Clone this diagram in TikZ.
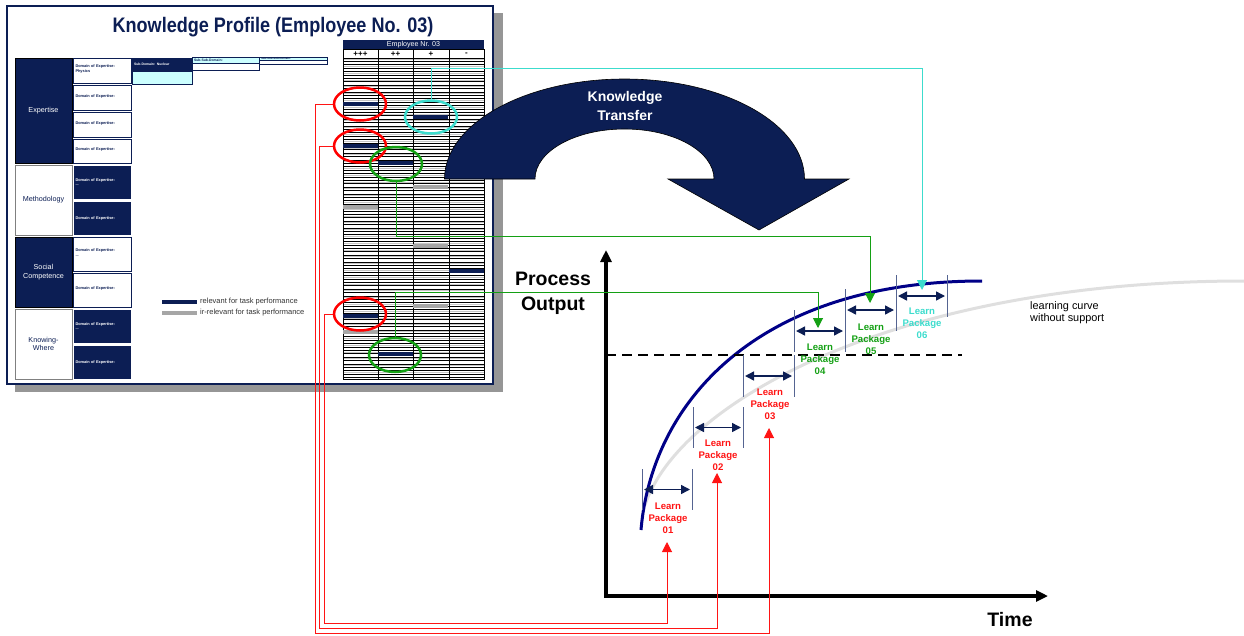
\documentclass[tikz,border=0pt]{standalone}
\usepackage{fontspec}
\setmainfont{Liberation Sans}
\newfontfamily\narrowfont{Liberation Sans}[FakeStretch=0.86]
\usetikzlibrary{arrows.meta,shapes.geometric,positioning}

\definecolor{profnavy}{RGB}{12,30,84}
\definecolor{curveblue}{RGB}{0,0,135}
\definecolor{tickblue}{RGB}{85,100,145}
\definecolor{pkgred}{RGB}{255,20,20}
\definecolor{pkggreen}{RGB}{20,160,20}
\definecolor{pkgcyan}{RGB}{60,220,205}
\definecolor{paleblue}{RGB}{204,255,255}
\definecolor{shadowgray}{RGB}{150,150,150}

\tikzset{
  catdark/.style={draw=black, fill=profnavy, text=white, line width=0.8pt,
    minimum width=57pt, inner sep=0pt, align=center,
    font=\fontsize{7.2}{9.5}\selectfont},
  catlight/.style={catdark, draw=gray, fill=white, text=profnavy},
  domlight/.style={draw=profnavy, fill=white, line width=1pt, minimum width=58pt,
    text width=53pt, inner xsep=2.5pt, inner ysep=0pt, align=left, text=profnavy,
    font=\bfseries\fontsize{3.9}{4.8}\selectfont},
  domdark/.style={domlight, draw=white, fill=profnavy, text=white},
  subbox/.style={draw=profnavy, line width=0.8pt, inner xsep=2pt, inner ysep=0pt,
    align=left, font=\bfseries\fontsize{3.4}{4}\selectfont},
  rowline/.style={black, line width=0.8pt},
  hilite/.style={ellipse, draw, line width=2.5pt, inner sep=0pt,
    minimum width=52pt, minimum height=33pt},
  link/.style={line width=1pt, -{Triangle[length=10pt,width=10pt]}},
  tickline/.style={tickblue, line width=1pt},
  spanarrow/.style={profnavy, line width=1.5pt,
    {Triangle[length=9pt,width=9pt]}-{Triangle[length=9pt,width=9pt]}},
  pkglabel/.style={align=center, inner sep=0pt,
    font=\bfseries\fontsize{9.6}{12}\selectfont},
}

\begin{document}
\begin{tikzpicture}[x=1pt,y=-1pt]
  \useasboundingbox (0,0) rectangle (1244,635);

  % knowledge profile card
  \fill[shadowgray] (15,13) rectangle (503,392);
  \draw[profnavy, line width=2.5pt, fill=white] (7,6) rectangle (493,384);
  \node[text=profnavy, font=\narrowfont\bfseries\fontsize{21}{24}\selectfont] (title)
    at (273,27) {Knowledge Profile (Employee No. 03)};

  \node[catdark, minimum height=105pt] (expertise) at (43.5,110.5) {Expertise};
  \node[catlight, minimum height=70pt] (method) at (43.5,200) {Methodology};
  \node[catdark, minimum height=70pt] (social) at (43.5,272) {Social\\Competence};
  \node[catlight, minimum height=70pt] (knowing) at (43.5,344)
    {Knowing-\\[-1.5pt]Where};

  \foreach \yc/\ht/\txt [count=\i] in {70.5/25/{Domain of Expertise:\\Physics},
      97.5/25/{Domain of Expertise:}, 124.5/25/{Domain of Expertise:},
      151/24/{Domain of Expertise:}, 254/34/{Domain of Expertise:\\...},
      290/34/{Domain of Expertise:}}
    \node[domlight, minimum height=\ht pt] (doml\i) at (102,\yc) {\txt};
  \foreach \yc/\txt [count=\i] in {182/{Domain of Expertise:\\...},
      218/{Domain of Expertise:}, 326/{Domain of Expertise:\\...},
      362/{Domain of Expertise:}}
    \node[domdark, minimum height=34pt] (domd\i) at (102,\yc) {\txt};

  \node[subbox, fill=profnavy, text=white, minimum width=60pt, minimum height=13pt,
    text width=56pt] (sub1) at (162,64.5) {Sub-Domain: Nuclear};
  \draw[profnavy, line width=0.8pt, fill=paleblue] (132,71) rectangle (192,84);
  \node[subbox, fill=paleblue, text=profnavy, minimum width=67pt, minimum height=5.5pt,
    text width=63pt] (sub2) at (225.5,60.25) {Sub-Sub-Domain:};
  \draw[profnavy, line width=0.8pt, fill=white] (192,63) rectangle (259,70);
  \node[subbox, fill=paleblue, text=profnavy, minimum width=68pt, minimum height=3.5pt,
    text width=64pt, font=\bfseries\fontsize{2.8}{3}\selectfont] (sub3)
    at (293,58.75) {Sub-Sub-Sub-Domain:};
  \draw[profnavy, line width=0.8pt, fill=white] (259,60.5) rectangle (327,64.5);

  % legend
  \draw[profnavy, line width=3.5pt] (162,302) -- (197,302);
  \draw[gray!70, line width=3.5pt] (162,313) -- (197,313);
  \node[anchor=west, inner sep=0pt, text=black!80, font=\fontsize{7.5}{9}\selectfont]
    (relevant) at (200,302) {relevant for task performance};
  \node[anchor=west, inner sep=0pt, text=black!80, font=\fontsize{7.5}{9}\selectfont]
    (irrelevant) at (200,313) {ir-relevant for task performance};

  % rating table
  \fill[profnavy] (343,39.5) rectangle (484,49.5);
  \node[text=white, font=\fontsize{7.1}{8}\selectfont] (emp) at (413.5,44.5)
    {Employee Nr. 03};
  \foreach \r in {0,...,94}
    \draw[rowline] (343,58+3.4*\r) -- (484,58+3.4*\r);
  \foreach \r in {0,2,...,92}
    \draw[gray!45, line width=0.9pt] (343,59.7+3.4*\r) -- (484,59.7+3.4*\r);
  \draw[black, line width=0.8pt] (343,49.5) rectangle (484,379.5);
  \draw[black, line width=0.8pt] (343,58) -- (484,58);
  \foreach \x in {378,413,449}
    \draw[black, line width=1pt] (\x,49.5) -- (\x,379.5);
  \foreach \x/\s in {360.5/{+++}, 395.5/{++}, 431/{+}, 466.5/{-}}
    \node[font=\bfseries\fontsize{8}{8}\selectfont, inner sep=0pt] at (\x,54) {\s};
  \foreach \xa/\yb in {343/104, 413/117, 343/146, 378/163, 449/271, 343/316, 378/354}
    \draw[profnavy, line width=3.5pt] (\xa,\yb) -- (\xa+35,\yb);
  \foreach \xa/\yb in {413/187, 343/207, 413/246, 413/306, 343/332}
    \draw[gray!70, line width=3.5pt] (\xa,\yb) -- (\xa+35,\yb);

  \node[hilite, draw=red] (r1) at (360,104) {};
  \node[hilite, draw=red] (r2) at (360,146) {};
  \node[hilite, draw=red] (r3) at (360,314) {};
  \node[hilite, draw=pkgcyan] (c1) at (431,117) {};
  \node[hilite, draw=pkggreen, minimum height=34pt] (g1) at (396,164) {};
  \node[hilite, draw=pkggreen, minimum height=34pt] (g2) at (395,355) {};

  % knowledge transfer arrow
  \draw[black, line width=0.6pt, fill=profnavy] (444.5,179)
    arc[start angle=180, end angle=360, x radius=180, y radius=100]
    -- (849,179) -- (759,230) -- (668,179) -- (714,179)
    arc[start angle=0, end angle=-180, x radius=89.5, y radius=50] -- cycle;
  \node[text=white, align=center, font=\bfseries\fontsize{14}{19}\selectfont]
    (transfer) at (625,106) {Knowledge\\Transfer};

  % learning curves
  \draw[gray!25, line width=3pt] (645,505) .. controls (680,400) and (900,281)
    .. (1244,281);
  \draw[curveblue, line width=3pt] (641,530) .. controls (652,400) and (760,281)
    .. (982,281);
  \draw[black, line width=2pt, dash pattern=on 10pt off 6pt] (606,355) -- (962,355);
  \draw[black, line width=4pt, line join=miter,
    {Triangle[length=12pt,width=11pt]}-{Triangle[length=12pt,width=11pt]}]
    (606,250) -- (606,596) -- (1048,596);
  \node[align=center, font=\bfseries\fontsize{19.5}{25}\selectfont] (output)
    at (553,293) {Process\\Output};
  \node[font=\bfseries\fontsize{19.5}{22}\selectfont] (time) at (1010,620) {Time};
  \node[align=left, anchor=west, inner sep=0pt, font=\fontsize{10.9}{12}\selectfont]
    (nosupport) at (1030,313) {learning curve\\without support};

  \foreach \xa/\xb/\ya/\yb in {642/692/469/510, 693/743/407/448, 743/794/355/397,
      794/845/310/352, 845/896/289/331, 896/947/275/317}{
    \draw[tickline] (\xa,\ya) -- (\xa,\yb) (\xb,\ya) -- (\xb,\yb);
    \draw[spanarrow] (\xa+2,{(\ya+\yb)/2}) -- (\xb-2,{(\ya+\yb)/2});
  }
  \foreach \n/\x/\y/\c in {01/668/518/pkgred, 02/718/455/pkgred, 03/770/404/pkgred,
      04/820/359/pkggreen, 05/871/339/pkggreen, 06/922/323/pkgcyan}
    \node[pkglabel, text=\c] (lp\n) at (\x,\y) {Learn\\Package\\\n};

  % links from the profile to the learn packages
  \coordinate (tip01) at (667,542);
  \coordinate (tip02) at (717,473);
  \coordinate (tip03) at (769,428);
  \coordinate (tip04) at (818,328);
  \coordinate (tip05) at (870,303);
  \coordinate (tip06) at (922,290);
  \draw[link, pkgcyan] (c1.north) -- ++(0,-31) -| (tip06);
  \draw[link, pkggreen] (g1.south) -- ++(0,54) -| (tip05);
  \draw[link, pkggreen] (g2.north) -- ++(0,-44) -| (tip04);
  \draw[link, pkgred] (r1.west) -| (315,633) -| (tip03);
  \draw[link, pkgred] (r2.west) -| (319,628) -| (tip02);
  \draw[link, pkgred] (r3.west) -| (324,623) -| (tip01);
\end{tikzpicture}
\end{document}
